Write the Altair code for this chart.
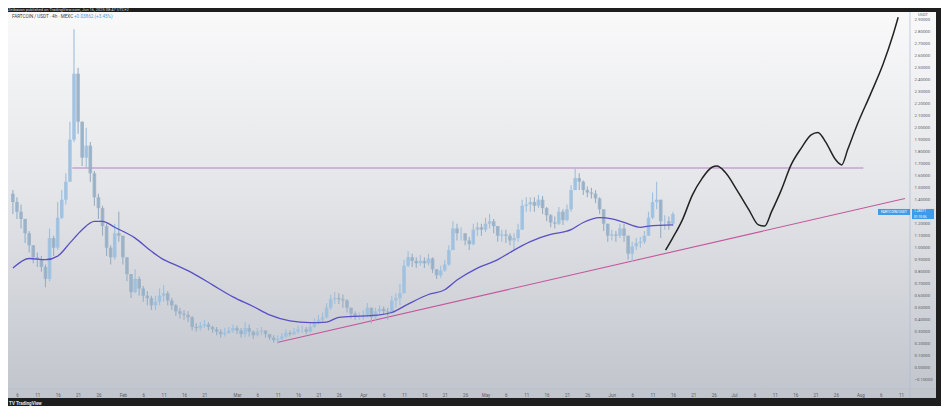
import altair as alt
import pandas as pd

# ---------------- data ----------------
first_open = 1.45
jan_close = [1.38, 1.30, 1.24, 1.12, 1.02, 0.92, 0.90, 0.84, 0.74, 1.08, 1.00, 1.25, 1.40, 1.55,
             1.90, 2.45, 2.05, 1.75, 1.85, 1.62, 1.42, 1.33, 1.18, 1.00, 0.92, 1.12, 1.10]
jan_high = [1.48, 1.42, 1.36, 1.24, 1.14, 1.02, 0.96, 0.93, 0.86, 1.16, 1.10, 1.38, 1.48, 1.62,
            2.05, 2.82, 2.50, 2.05, 2.00, 1.88, 1.64, 1.45, 1.35, 1.20, 1.02, 1.20, 1.30]
jan_low = [1.28, 1.24, 1.16, 1.04, 0.96, 0.87, 0.84, 0.80, 0.67, 0.72, 0.93, 0.98, 1.24, 1.36,
           1.55, 1.88, 1.95, 1.68, 1.66, 1.55, 1.35, 1.24, 1.10, 0.93, 0.86, 0.90, 1.05]

feb_close = [0.92, 0.78, 0.63, 0.74, 0.66, 0.60, 0.58, 0.52, 0.55, 0.60, 0.62, 0.56, 0.52, 0.47,
             0.45, 0.44, 0.42, 0.34, 0.33, 0.35, 0.36, 0.34, 0.32, 0.30, 0.28, 0.29, 0.31, 0.33]
feb_high = [1.10, 0.92, 0.78, 0.82, 0.76, 0.68, 0.64, 0.60, 0.60, 0.66, 0.69, 0.64, 0.58, 0.53,
            0.50, 0.48, 0.47, 0.43, 0.37, 0.38, 0.40, 0.38, 0.35, 0.34, 0.32, 0.33, 0.34, 0.36]
feb_low = [0.86, 0.72, 0.58, 0.62, 0.60, 0.55, 0.52, 0.48, 0.48, 0.52, 0.55, 0.52, 0.48, 0.43,
           0.41, 0.40, 0.38, 0.31, 0.30, 0.31, 0.33, 0.31, 0.29, 0.27, 0.25, 0.26, 0.28, 0.29]

mar_close = [0.31, 0.28, 0.33, 0.30, 0.27, 0.30, 0.31, 0.28, 0.25, 0.23, 0.24, 0.26, 0.29, 0.28,
             0.30, 0.32, 0.32, 0.30, 0.34, 0.38, 0.40, 0.42, 0.50, 0.57, 0.58, 0.57, 0.56, 0.50,
             0.45, 0.43, 0.43]
mar_high = [0.35, 0.33, 0.38, 0.36, 0.31, 0.33, 0.34, 0.31, 0.28, 0.27, 0.27, 0.29, 0.32, 0.31,
            0.33, 0.35, 0.35, 0.34, 0.37, 0.41, 0.44, 0.46, 0.54, 0.61, 0.63, 0.62, 0.61, 0.57,
            0.50, 0.47, 0.46]
mar_low = [0.28, 0.25, 0.25, 0.26, 0.24, 0.26, 0.27, 0.25, 0.23, 0.21, 0.20, 0.23, 0.25, 0.26,
           0.27, 0.28, 0.29, 0.28, 0.29, 0.33, 0.36, 0.38, 0.41, 0.48, 0.53, 0.53, 0.50, 0.46,
           0.41, 0.40, 0.40]

apr_close = [0.44, 0.50, 0.42, 0.47, 0.49, 0.47, 0.46, 0.56, 0.58, 0.62, 0.85, 0.92, 0.89, 0.87,
             0.89, 0.87, 0.91, 0.82, 0.77, 0.81, 0.86, 0.98, 1.16, 1.12, 1.12, 1.06, 1.03, 1.15,
             1.17, 1.15]
apr_high = [0.48, 0.54, 0.50, 0.50, 0.52, 0.51, 0.50, 0.60, 0.62, 0.70, 0.90, 0.97, 0.95, 0.92,
            0.94, 0.92, 0.95, 0.92, 0.82, 0.85, 0.90, 1.02, 1.22, 1.20, 1.17, 1.12, 1.09, 1.20,
            1.21, 1.20]
apr_low = [0.40, 0.42, 0.37, 0.40, 0.45, 0.44, 0.40, 0.45, 0.50, 0.52, 0.62, 0.84, 0.84, 0.83,
           0.85, 0.83, 0.85, 0.79, 0.74, 0.75, 0.80, 0.85, 0.98, 1.06, 1.06, 1.02, 0.98, 1.02,
           1.10, 1.10]

may_close = [1.20, 1.22, 1.18, 1.10, 1.11, 1.10, 1.06, 1.08, 1.15, 1.35, 1.36, 1.38, 1.35, 1.40,
             1.33, 1.27, 1.21, 1.20, 1.30, 1.23, 1.32, 1.48, 1.58, 1.55, 1.48, 1.46, 1.45, 1.41,
             1.32, 1.20, 1.10]
may_high = [1.25, 1.28, 1.24, 1.17, 1.15, 1.15, 1.12, 1.12, 1.20, 1.40, 1.42, 1.42, 1.42, 1.44,
            1.43, 1.34, 1.28, 1.26, 1.34, 1.32, 1.36, 1.52, 1.66, 1.62, 1.56, 1.51, 1.50, 1.48,
            1.42, 1.32, 1.20]
may_low = [1.13, 1.16, 1.12, 1.05, 1.05, 1.04, 1.02, 0.98, 1.05, 1.15, 1.30, 1.30, 1.30, 1.33,
           1.28, 1.22, 1.17, 1.16, 1.19, 1.19, 1.22, 1.30, 1.48, 1.48, 1.44, 1.42, 1.41, 1.37,
           1.28, 1.14, 1.05]

jun_close = [1.11, 1.10, 1.16, 1.10, 0.95, 1.01, 1.04, 1.05, 1.10, 1.25, 1.38, 1.40, 1.22, 1.22,
             1.20, 1.28]
jun_high = [1.15, 1.14, 1.20, 1.20, 1.08, 1.05, 1.08, 1.09, 1.14, 1.30, 1.46, 1.55, 1.38, 1.27,
            1.26, 1.30]
jun_low = [1.06, 1.05, 1.08, 1.05, 0.90, 0.88, 0.98, 1.00, 1.03, 1.10, 1.24, 1.32, 1.08, 1.15,
           1.15, 1.18]

ma_dates = ["2025-01-05", "2025-01-09", "2025-01-13", "2025-01-16", "2025-01-19", "2025-01-22",
            "2025-01-25", "2025-01-27", "2025-01-30", "2025-02-04", "2025-02-08", "2025-02-11",
            "2025-02-13", "2025-02-18", "2025-02-23", "2025-02-28", "2025-03-05", "2025-03-09",
            "2025-03-14", "2025-03-19", "2025-03-23", "2025-03-26", "2025-03-31", "2025-04-05",
            "2025-04-08", "2025-04-12", "2025-04-17", "2025-04-21", "2025-04-24", "2025-04-29",
            "2025-05-04", "2025-05-07", "2025-05-12", "2025-05-17", "2025-05-22", "2025-05-25",
            "2025-05-29", "2025-06-01", "2025-06-04", "2025-06-08", "2025-06-10", "2025-06-16"]
ma_vals = [0.83, 0.91, 0.90, 0.93, 1.04, 1.15, 1.22, 1.22, 1.17, 1.08, 0.97, 0.90, 0.87, 0.79,
           0.69, 0.59, 0.51, 0.44, 0.39, 0.375, 0.38, 0.42, 0.43, 0.44, 0.46, 0.53, 0.61, 0.65,
           0.73, 0.83, 0.90, 0.96, 1.05, 1.11, 1.15, 1.21, 1.25, 1.24, 1.21, 1.17, 1.18, 1.19]

proj_times = ["2025-06-14T05:00", "2025-06-15T22:00", "2025-06-18T07:00", "2025-06-20T19:00",
              "2025-06-23T05:00", "2025-06-25T14:00", "2025-06-26T19:00", "2025-06-28T19:00",
              "2025-07-01T17:00", "2025-07-04T14:00", "2025-07-07T00:00", "2025-07-08T12:00",
              "2025-07-10T05:00", "2025-07-12T14:00", "2025-07-15T00:00", "2025-07-17T12:00",
              "2025-07-19T22:00", "2025-07-21T14:00", "2025-07-23T12:00", "2025-07-26T00:00",
              "2025-07-27T10:00", "2025-07-28T22:00", "2025-07-31T07:00", "2025-08-03T12:00",
              "2025-08-06T14:00", "2025-08-09T02:00", "2025-08-10T07:00"]
proj_vals = [0.98, 1.08, 1.23, 1.44, 1.58, 1.67, 1.68, 1.63, 1.48, 1.32, 1.19, 1.18, 1.30, 1.48,
             1.69, 1.83, 1.94, 1.96, 1.88, 1.73, 1.69, 1.82, 2.03, 2.28, 2.53, 2.78, 2.92]

res_times = ["2025-01-19T14:00", "2025-08-01T18:00"]
res_vals = [1.664, 1.664]
trend_times = ["2025-03-10T20:00", "2025-08-11T23:00"]
trend_vals = [0.21, 1.41]

x_ticks = ["2025-01-06", "2025-01-11", "2025-01-16", "2025-01-21", "2025-01-26",
           "2025-02-01", "2025-02-06", "2025-02-11", "2025-02-16", "2025-02-21",
           "2025-03-01", "2025-03-06", "2025-03-11", "2025-03-16", "2025-03-21", "2025-03-26",
           "2025-04-01", "2025-04-06", "2025-04-11", "2025-04-16", "2025-04-21", "2025-04-26",
           "2025-05-01", "2025-05-06", "2025-05-11", "2025-05-16", "2025-05-21", "2025-05-26",
           "2025-06-01", "2025-06-06", "2025-06-11", "2025-06-16", "2025-06-21", "2025-06-26",
           "2025-07-01", "2025-07-06", "2025-07-11", "2025-07-16", "2025-07-21", "2025-07-26",
           "2025-08-01", "2025-08-06", "2025-08-11"]
# 1.3 is hidden behind the last-price label in the reference
y_ticks = [-0.1, 0.0, 0.1, 0.2, 0.3, 0.4, 0.5, 0.6, 0.7, 0.8, 0.9, 1.0, 1.1, 1.2, 1.4,
           1.5, 1.6, 1.7, 1.8, 1.9, 2.0, 2.1, 2.2, 2.3, 2.4, 2.5, 2.6, 2.7, 2.8, 2.9]

x_domain = ["2025-01-05T00:42", "2025-08-11T23:00"]
y_domain = [-0.1775, 2.964]
last_price = 1.28071

# ---------------- helpers ----------------
def ms(s):
    return int(pd.Timestamp(s, tz="UTC").value // 10**6)

close = jan_close + feb_close + mar_close + apr_close + may_close + jun_close
high = jan_high + feb_high + mar_high + apr_high + may_high + jun_high
low = jan_low + feb_low + mar_low + apr_low + may_low + jun_low
days = pd.date_range("2025-01-05", periods=len(close), freq="D", tz="UTC")
opens = [first_open] + close[:-1]

candles = pd.DataFrame({
    "t": [int(d.value // 10**6) for d in days],
    "open": opens,
    "close": close,
    "high": [max(h, o, c) for h, o, c in zip(high, opens, close)],
    "low": [min(l, o, c) for l, o, c in zip(low, opens, close)],
})
candles["dir"] = ["up" if c >= o else "down" for o, c in zip(opens, close)]

ma_df = pd.DataFrame({"t": [ms(d) for d in ma_dates], "v": ma_vals})
proj_df = pd.DataFrame({"t": [ms(d) for d in proj_times], "v": proj_vals})
res_df = pd.DataFrame({"t": [ms(d) for d in res_times], "v": res_vals})
trend_df = pd.DataFrame({"t": [ms(d) for d in trend_times], "v": trend_vals})
one = pd.DataFrame({"a": [0]})
last_df = pd.DataFrame({"hi": [last_price + 0.042], "lo": [last_price - 0.042],
                        "l1": [last_price + 0.021], "l2": [last_price - 0.023],
                        "bhi": [last_price + 0.042], "blo": [last_price - 0.008],
                        "bm": [last_price + 0.017]})

W, H = 902, 377
FONT = "Roboto"

xscale = alt.Scale(type="utc", domain=[ms(x_domain[0]), ms(x_domain[1])], nice=False)
yscale = alt.Scale(domain=y_domain, nice=False, zero=False)

xaxis = alt.Axis(values=[ms(t) for t in x_ticks],
                 labelExpr="utcdate(datum.value) == 1 ? utcFormat(datum.value, '%b') : '' + utcdate(datum.value)",
                 labelFontSize=4.5, labelColor="#5b5e66", labelFont=FONT, ticks=False, tickSize=0,
                 domain=False, grid=False, labelPadding=3, title=None, labelOverlap=False,
                 labelFlush=False, zindex=2)
yaxis = alt.Axis(orient="right", values=y_ticks, format=".5f", labelFontSize=4.3,
                 labelColor="#5b5e66", labelFont=FONT, ticks=False, tickSize=0, domain=False,
                 grid=False, labelPadding=4, title=None, labelAlign="left", labelOverlap=False,
                 zindex=2)

X = lambda f: alt.X(f, type="temporal", scale=xscale, axis=xaxis)
Y = lambda f: alt.Y(f, type="quantitative", scale=yscale, axis=yaxis)

grad = alt.Gradient(gradient="linear", x1=0, x2=0, y1=0, y2=1,
                    stops=[alt.GradientStop(offset=0, color="#f9f9fa"),
                           alt.GradientStop(offset=0.45, color="#e5e6e9"),
                           alt.GradientStop(offset=1, color="#c0c4cc")])

bg = alt.Chart(one).mark_rect(fill=grad).encode(
    x=alt.value(0), x2=alt.value(W), y=alt.value(0), y2=alt.value(H + 9))
strip = alt.Chart(one).mark_rect(fill=grad).encode(
    x=alt.value(W), x2=alt.value(W + 26), y=alt.value(0), y2=alt.value(H + 9))
sep_v = alt.Chart(one).mark_rule(color="#aebbd0", strokeWidth=0.7).encode(
    x=alt.value(W), y=alt.value(0), y2=alt.value(H + 9))
sep_h = alt.Chart(one).mark_rule(color="#b4bac4", strokeWidth=0.5).encode(
    x=alt.value(0), x2=alt.value(W + 26), y=alt.value(H))

cscale = alt.Scale(domain=["up", "down"], range=["#aacbe9", "#a2bad0"])
wscale = alt.Scale(domain=["up", "down"], range=["#9cbfdf", "#96afc6"])
wicks = alt.Chart(candles).mark_rule(strokeWidth=1.1).encode(
    x=X("t"), y=Y("low"), y2="high", color=alt.Color("dir:N", scale=wscale, legend=None))
bodies = alt.Chart(candles).mark_bar(size=3.6, opacity=0.85).encode(
    x=X("t"), y=Y("open"), y2="close", color=alt.Color("dir:N", scale=cscale, legend=None))

ma = alt.Chart(ma_df).mark_line(color="#5a4fc4", strokeWidth=1.3, interpolate="monotone").encode(
    x=X("t"), y=Y("v"))
res = alt.Chart(res_df).mark_line(color="#c9a2d2", strokeWidth=1.6).encode(x=X("t"), y=Y("v"))
trend = alt.Chart(trend_df).mark_line(color="#c4579c", strokeWidth=1.1).encode(x=X("t"), y=Y("v"))
proj = alt.Chart(proj_df).mark_line(color="#222222", strokeWidth=1.5, interpolate="monotone").encode(
    x=X("t"), y=Y("v"))

box_price = alt.Chart(last_df).mark_rect(color="#3d9be9").encode(
    x=alt.value(W + 2), x2=alt.value(W + 24), y=Y("hi"), y2="lo")
txt_price = alt.Chart(last_df).mark_text(color="white", fontSize=3.3, align="left", baseline="middle",
                                         font=FONT).encode(
    x=alt.value(W + 4), y=Y("l1"), text=alt.value("1.28071"))
txt_time = alt.Chart(last_df).mark_text(color="white", fontSize=3.3, align="left", baseline="middle",
                                        font=FONT).encode(
    x=alt.value(W + 4), y=Y("l2"), text=alt.value("01:10:06"))
box_name = alt.Chart(last_df).mark_rect(color="#3d9be9").encode(
    x=alt.value(W - 32), x2=alt.value(W), y=Y("bhi"), y2="blo")
txt_name = alt.Chart(last_df).mark_text(color="white", fontSize=3.5, align="center", baseline="middle",
                                        font=FONT).encode(
    x=alt.value(W - 16), y=Y("bm"), text=alt.value("FARTCOIN/USDT"))

def label(text, x, y, size, color, align="left", weight="normal"):
    return alt.Chart(one).mark_text(text=text, fontSize=size, color=color, align=align,
                                    baseline="middle", font=FONT, fontWeight=weight).encode(
        x=alt.value(x), y=alt.value(y))

header1 = label("FARTCOIN / USDT · 4h · MEXC", 4, 4.5, 4.6, "#3a3d45")
header2 = label("+0.03862 (+3.45%)", 66, 4.5, 4.6, "#4f9be0")
published = label("Zetbacon published on TradingView.com, Jun 16, 2025 08:47 UTC+2", 0, -2, 4,
                  "#d8d8d8")
usdt = label("USDT", W + 8, 3, 4, "#5b5e66")
logo = label("TV TradingView", 1, 392, 4.6, "#e0e0e0", weight="bold")

chart = alt.layer(
    bg, strip, sep_v, sep_h, res, trend, wicks, bodies, ma, proj,
    box_name, txt_name, box_price, txt_price, txt_time,
    header1, header2, published, usdt, logo,
).properties(
    width=W, height=H,
    autosize=alt.AutoSizeParams(type="none"),
    padding={"left": 0, "top": 4, "right": 31, "bottom": 17},
    background="#1e1e1e",
).configure_view(stroke=None)

chart.save("out.html", embed_options={"renderer": "svg", "actions": False})
